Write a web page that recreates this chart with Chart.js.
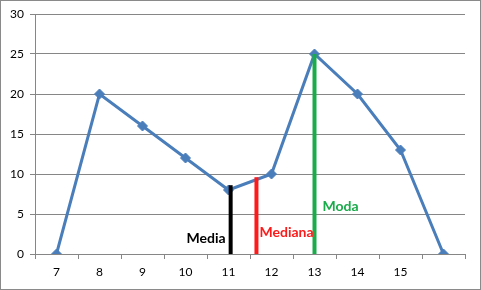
<!DOCTYPE html>
<html>
<head>
<meta charset="utf-8">
<script src="https://cdn.jsdelivr.net/npm/chart.js@4"></script>
<style>
  body { margin: 0; background: #fff; }
  #wrap { width: 481px; height: 290px; }
</style>
</head>
<body>
<div id="wrap"><canvas id="myChart"></canvas></div>
<script>
// categorie (l'ultima senza etichetta)
const categorie = ["7", "8", "9", "10", "11", "12", "13", "14", "15", ""];
// frequenze
const frequenze = [0, 20, 16, 12, 8, 10, 25, 20, 13, 0];
const yTicks = [0, 5, 10, 15, 20, 25, 30];

// linee verticali: posizione (indice categoria) e altezza
const nomiLinee = ["Media", "Mediana", "Moda"];
const posLinee = [4.05, 4.65, 6];
const altLinee = [8.6, 9.6, 25];
const coloriLinee = ["#000000", "#ff1a1a", "#1aab4b"];

const lineDatasets = nomiLinee.map((n, i) => ({
  label: n,
  xAxisID: 'x2',
  data: [{x: posLinee[i], y: 0}, {x: posLinee[i], y: altLinee[i]}],
  borderColor: coloriLinee[i],
  borderWidth: 4,
  pointRadius: 0,
  order: 0
}));

// etichette delle linee
const labelPlugin = {
  id: 'labelLinee',
  afterDatasetsDraw(chart) {
    const ctx = chart.ctx;
    const sx = chart.scales.x2, sy = chart.scales.y;
    const conf = [
      {align: 'right', dx: -5, y: 2.0},
      {align: 'left', dx: 3, y: 2.75},
      {align: 'left', dx: 8, y: 6.0}
    ];
    ctx.save();
    ctx.font = 'bold 14px Lato';
    ctx.textBaseline = 'middle';
    nomiLinee.forEach((n, i) => {
      ctx.fillStyle = coloriLinee[i];
      ctx.textAlign = conf[i].align;
      ctx.fillText(n, sx.getPixelForValue(posLinee[i]) + conf[i].dx, sy.getPixelForValue(conf[i].y));
    });
    ctx.restore();
  }
};

// bordo esterno grigio
const bordoPlugin = {
  id: 'bordo',
  afterDraw(chart) {
    const ctx = chart.ctx;
    ctx.save();
    ctx.strokeStyle = '#8a8a8a';
    ctx.lineWidth = 1;
    ctx.strokeRect(0.5, 0.5, chart.width - 1, chart.height - 1);
    ctx.restore();
  }
};

const config = {
  type: 'line',
  data: {
    labels: categorie,
    datasets: [
      ...lineDatasets,
      {
        label: 'Frequenza',
        data: frequenze,
        borderColor: '#4a7ebb',
        backgroundColor: '#4a7ebb',
        borderWidth: 3,
        pointStyle: 'rectRot',
        pointRadius: 5,
        pointBorderWidth: 1,
        tension: 0,
        order: 1
      }
    ]
  },
  options: {
    responsive: true,
    maintainAspectRatio: false,
    animation: false,
    layout: { padding: { top: 14, right: 16, left: 0, bottom: 0 } },
    plugins: { legend: { display: false }, tooltip: { enabled: false } },
    scales: {
      x: {
        offset: true,
        grid: { offset: true, drawOnChartArea: false, drawTicks: true, tickLength: 5, color: '#868686' },
        border: { color: '#868686' },
        ticks: { color: '#000', font: { family: 'Lato', size: 12 }, padding: 6, maxRotation: 0 },
        afterFit(s) { s.height = 36; }
      },
      x2: {
        type: 'linear',
        display: false,
        min: -0.5,
        max: categorie.length - 0.5
      },
      y: {
        min: 0,
        max: 30,
        afterBuildTicks(s) { s.ticks = yTicks.map(v => ({value: v})); },
        grid: { color: '#868686', tickLength: 5 },
        border: { color: '#868686' },
        ticks: { color: '#000', font: { family: 'Lato', size: 12 }, padding: 6 },
        afterFit(s) { s.width = 35; }
      }
    }
  },
  plugins: [labelPlugin, bordoPlugin]
};

var myChart = new Chart(document.getElementById('myChart'), config);
</script>
</body>
</html>
